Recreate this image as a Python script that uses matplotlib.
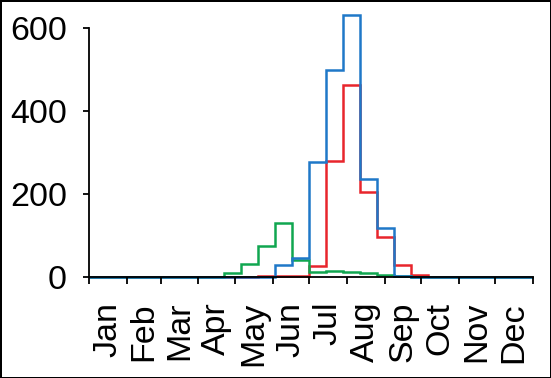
import numpy as np
import matplotlib
matplotlib.use("Agg")
import matplotlib.pyplot as plt
from matplotlib.ticker import FixedLocator, NullFormatter

# month names and lengths (non-leap year)
months = ["Jan", "Feb", "Mar", "Apr", "May", "Jun",
          "Jul", "Aug", "Sep", "Oct", "Nov", "Dec"]
month_days = [31, 28, 31, 30, 31, 30, 31, 31, 30, 31, 30, 31]

# two-week bins, counts
red_counts = [0, 0, 0, 0, 0, 0, 0, 0, 0, 0, 3, 3, 3, 27, 280, 463, 204, 97, 29, 6,
              0, 0, 0, 0, 0, 0, 0]
green_counts = [0, 0, 0, 0, 0, 0, 0, 1, 10, 31, 75, 131, 41, 12, 14, 12, 10, 5, 2, 0,
                0, 0, 0, 0, 0, 0, 0]
blue_counts = [0, 0, 0, 0, 0, 0, 0, 0, 0, 0, 0, 30, 46, 278, 500, 632, 236, 119, 3, 1,
               0, 0, 0, 0, 0, 0, 0]

# bin edges in day-of-year, one edge falls on 1 July
edges = np.concatenate([[0], np.arange(13, 365, 14), [365]])
month_edges = np.concatenate([[0], np.cumsum(month_days)])
month_mids = (month_edges[:-1] + month_edges[1:]) / 2

plt.rcParams["font.family"] = ["Liberation Sans", "DejaVu Sans"]

fig = plt.figure(figsize=(5.51, 3.78), dpi=100, edgecolor="black", linewidth=2)
ax = fig.add_axes([0.1615, 0.2672, 0.8058, 0.6587])

ax.stairs(red_counts, edges, color="#e8252c", linewidth=1.8, clip_on=False)
ax.stairs(green_counts, edges, color="#10a650", linewidth=1.8, clip_on=False)
ax.stairs(blue_counts, edges, color="#1f78c8", linewidth=1.8, clip_on=False)

ax.set_xlim(0, 365)
ax.set_ylim(0, 600)
ax.set_yticks([0, 200, 400, 600])

# month boundaries as ticks, names centred in each month
ax.xaxis.set_major_locator(FixedLocator(month_edges))
ax.xaxis.set_major_formatter(NullFormatter())
ax.xaxis.set_minor_locator(FixedLocator(month_mids))
ax.set_xticklabels(months, minor=True, rotation=90, va="top", ha="center")
ax.tick_params(axis="x", which="minor", length=0, pad=18, labelsize=24.5)
ax.tick_params(axis="x", which="major", length=5, width=1.3, direction="out")
ax.tick_params(axis="y", length=4, width=1.3, direction="out", pad=12, labelsize=24.5)

for side in ["top", "right"]:
    ax.spines[side].set_visible(False)
for side in ["left", "bottom"]:
    ax.spines[side].set_linewidth(1.3)

fig.savefig("out.png", dpi=100)
